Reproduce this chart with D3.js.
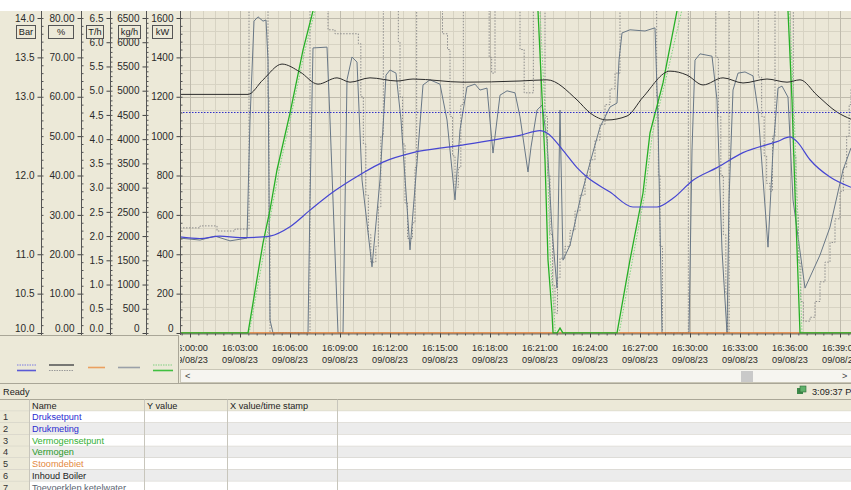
<!DOCTYPE html>
<html lang="nl">
<head>
<meta charset="utf-8">
<title>Trend ketel</title>
<script src="https://cdn.jsdelivr.net/npm/d3@7"></script>
<style>
  body { margin: 0; background: #fff; }
  svg { display: block; font-family: "Liberation Sans", Arial, sans-serif; font-size: 9.2px; }
  .as text { fill: #2a2a2a; }
  .tx text { fill: #2a2a2a; }
</style>
</head>
<body>
<svg id="c" width="851" height="490"></svg>
<script>
// tijd = minuten na 16:00:00 op 09/08/23
var drukSetpunt = [[-0.6, 12.8], [39.66, 12.8]];                      // Bar
var drukMeting = [[-0.6,11.22],[0.6,11.2],[1.8,11.23],[3.0,11.21],[4.38,11.22],[4.8,11.23],[6.0,11.35],[7.2,11.56],
  [8.58,11.79],[10.2,12.01],[11.58,12.17],[13.38,12.29],[15.78,12.37],[18.18,12.45],[19.8,12.51],[21.0,12.57],
  [21.42,12.54],[22.38,12.32],[23.22,12.1],[23.82,11.98],[25.2,11.79],[26.58,11.6],[28.02,11.6],[28.98,11.71],
  [30.18,11.94],[31.62,12.1],[33.18,12.29],[35.22,12.43],[36.0,12.49],[36.42,12.43],[37.2,12.2],[38.4,11.98],[39.66,11.85]];
var vermogenSetpunt = [[-0.6,0],[3.55,0],[4.9,625],[5.35,828],[6.1,1117],[6.9,1437],[7.5,1636],[8.1,1800],[20.4,1800],
  [21.0,1636],[21.45,879],[21.62,371],[21.85,102],[21.92,0],[25.75,0],[26.55,371],[27.3,711],[27.75,1016],[28.5,1270],
  [29.5,1636],[30.0,1800],[35.4,1800],[35.98,1636],[36.22,1184],[36.42,711],[36.72,0],[39.66,0]];   // kW
var vermogen = [[-0.6,0],[3.48,0],[4.38,457],[4.8,625],[5.22,828],[6.0,1117],[6.78,1437],[7.38,1636],[8.0,1800],[20.3,1800],
  [20.88,1636],[21.3,879],[21.48,371],[21.72,102],[21.78,0],[22.02,0],[22.2,25],[22.38,0],[25.62,0],[26.4,371],
  [27.18,711],[27.6,1016],[28.38,1270],[29.22,1636],[29.8,1800],[35.3,1800],[35.88,1636],[36.12,1184],[36.3,711],
  [36.6,0],[39.66,0]];                                                   // kW
var stoomdebiet = [[-0.6, 0], [39.66, 0]];                             // kg/h
var inhoudBoiler = [[-0.6,60.6],[3.48,60.6],[4.38,64.3],[5.52,68.3],[6.6,66.3],[7.68,63.2],[8.82,64.8],[9.6,63.7],
  [10.8,64.8],[12.42,64.0],[13.38,64.5],[16.38,63.7],[19.8,64.0],[21.42,64.3],[23.22,59.2],[24.0,55.9],[25.02,54.1],
  [26.22,55.1],[27.18,59.9],[28.8,66.5],[29.82,65.5],[30.78,63.0],[31.98,64.8],[33.18,63.5],[34.62,64.5],[35.82,63.7],
  [36.6,64.3],[37.62,60.4],[38.82,56.1],[39.66,54.3]];                  // %
var toevoerklep = [[-0.6,24.1],[0.6,23.6],[1.5,24.6],[2.4,23.4],[3.42,24.1],[3.6,54.1],[3.84,79.2],[4.08,80.3],[4.38,79.2],
  [4.56,79.5],[4.68,69.3],[4.8,3.3],[4.98,0],[7.08,0],[7.2,33.8],[7.38,72.4],[8.22,72.6],[8.4,54.1],[8.88,0],[9.18,0],
  [9.42,64.3],[9.72,70.1],[10.02,68.8],[10.32,38.9],[10.92,16.8],[11.4,38.9],[11.76,65.5],[12.0,66.8],[12.36,66.0],
  [12.66,54.1],[13.2,21.1],[13.68,46.5],[13.98,63.0],[14.4,64.3],[15.0,63.2],[15.42,54.1],[15.9,33.8],[16.2,51.6],
  [16.62,62.5],[17.1,63.2],[17.4,61.7],[17.82,62.2],[18.18,45.7],[18.6,60.4],[19.02,61.5],[19.5,61.0],[19.8,54.9],
  [20.28,40.9],[20.46,47.2],[20.82,56.6],[21.12,57.9],[21.42,49.0],[21.72,26.2],[22.02,11.4],[22.2,56.6],[22.38,18.5],
  [22.8,22.3],[23.4,33.8],[24.0,43.2],[24.6,52.3],[25.2,57.4],[25.62,58.4],[25.74,69.3],[25.92,76.2],[26.4,77.0],
  [27.3,76.7],[27.9,77.5],[28.08,54.1],[28.32,0],[29.94,0],[30.12,46.5],[30.3,69.3],[30.6,70.9],[31.32,70.3],
  [31.62,59.2],[31.92,21.1],[32.22,0],[32.34,33.8],[32.58,61.7],[32.88,66.0],[33.3,66.3],[33.78,65.3],[34.08,56.6],
  [34.68,21.8],[34.98,46.5],[35.28,62.2],[35.52,62.7],[35.88,59.9],[36.18,33.8],[36.9,11.4],[37.2,14.2],[37.8,19.8],
  [38.4,26.9],[39.18,41.4],[39.66,47.0]];                              // %
var klepStand = [[-0.6,26.7],[0.6,27.2],[1.62,25.9],[2.7,26.4],[3.54,100],[4.68,60],[4.74,25],[4.8,0],
  [7.2,100],[8.28,77],[8.7,76],[10.1,73.5],[10.25,60],[10.4,48],[10.55,35],[10.7,25],[10.85,18],[11.15,22],[11.3,32],
  [11.45,50],[11.6,100],[12.5,74],[12.6,60],[12.75,48],[12.9,33],[13.05,24],[13.35,28],[13.5,42],[13.6,100],
  [15.15,76],[15.45,72],[15.6,55],[15.75,45],[15.9,37],[16.1,42],[16.25,58],[16.4,100],[17.95,70],[18.1,66],[18.3,100],
  [19.8,72],[20.05,61],[20.6,100],[21.3,55],[21.45,40],[21.6,25],[21.75,12],[21.9,5],[22.05,14],[22.2,19],[22.5,22],
  [22.8,26],[23.1,31],[23.4,35],[23.7,40],[24.0,44],[24.3,49],[24.6,53],[24.9,58],[25.2,62],[25.5,66],[25.8,100],
  [28.0,60],[28.1,40],[28.2,22],[28.35,0],[29.9,100],[31.55,70],[31.7,55],[31.85,40],[32.0,25],[32.15,10],[32.25,0],
  [32.35,100],[34.1,65],[34.3,55],[34.45,45],[34.6,38],[34.8,36],[34.95,50],[35.1,100],[36.2,45],[36.35,30],[36.5,18],
  [36.65,8],[36.8,3],[37.2,4],[37.5,8],[37.8,13],[38.1,18],[38.4,23],[38.7,29],[39.0,36],[39.2,42],[39.4,50],
  [39.55,58],[39.66,62]];                                              // %

var barTicks = [14.0, 13.5, 13.0, 12.0, 11.0, 10.5, 10.0];
var pctTicks = [80, 70, 60, 50, 40, 30, 20, 10, 0];
var thTicks = [6.5, 6.0, 5.5, 5.0, 4.5, 4.0, 3.5, 3.0, 2.5, 2.0, 1.5, 1.0, 0.5, 0.0];
var kghTicks = [6500, 6000, 5500, 5000, 4500, 4000, 3500, 3000, 2500, 2000, 1500, 1000, 500, 0];
var kwTicks = [1600, 1400, 1200, 1000, 800, 600, 400, 200, 0];
var timeTicks = ["16:00:00","16:03:00","16:06:00","16:09:00","16:12:00","16:15:00","16:18:00",
  "16:21:00","16:24:00","16:27:00","16:30:00","16:33:00","16:36:00","16:39:00"];
var tabelNamen = ["Druksetpunt","Drukmeting","Vermogensetpunt","Vermogen","Stoomdebiet","Inhoud Boiler","Toevoerklep ketelwater"];
var kolommen = ["Name", "Y value", "X value/time stamp"];

var svg = d3.select("#c");
var base = new Date(2023, 7, 9, 16, 0, 0);
function tm(m){ return new Date(base.getTime() + m * 60000); }
var parseT = d3.timeParse("%H:%M:%S");
function tickDate(s){ var p = parseT(s); return new Date(2023, 7, 9, p.getHours(), p.getMinutes(), p.getSeconds()); }

var x = d3.scaleTime().domain([tm(-0.6), tm(39.66)]).range([180, 851]);
var yBar = d3.scaleLinear().domain([10, 14]).range([333, 18]);
var yPct = d3.scaleLinear().domain([0, 80]).range([333, 18]);
var yTh = d3.scaleLinear().domain([0, 6.5]).range([333, 18]);
var yKgh = d3.scaleLinear().domain([0, 6500]).range([333, 18]);
var yKw = d3.scaleLinear().domain([0, 1600]).range([333, 18]);

var defs = svg.append("defs");
defs.append("clipPath").attr("id", "clipPlot").append("rect").attr("x", 180).attr("y", 11).attr("width", 671).attr("height", 323.5);
defs.append("clipPath").attr("id", "clipX").append("rect").attr("x", 180).attr("y", 330).attr("width", 671).attr("height", 38);

// achtergronden
svg.append("rect").attr("width", 851).attr("height", 490).attr("fill", "#ece9d8");
svg.append("rect").attr("width", 851).attr("height", 11).attr("fill", "#fff");
svg.append("rect").attr("x", 180).attr("y", 11).attr("width", 671).attr("height", 322).attr("fill", "#ebe7d7");

// raster
var grid = svg.append("g").attr("clip-path", "url(#clipPlot)");
grid.selectAll(".hmin").data(d3.range(0, 1601, 200 / 3)).enter().append("line")
  .attr("x1", 180).attr("x2", 851).attr("y1", d => Math.round(yKw(d)) + 0.5).attr("y2", d => Math.round(yKw(d)) + 0.5)
  .attr("stroke", "#d7d3c3");
grid.selectAll(".vmin").data(d3.range(0, 39.7, 0.75)).enter().append("line")
  .attr("y1", 11).attr("y2", 333).attr("x1", d => Math.round(x(tm(d))) + 0.5).attr("x2", d => Math.round(x(tm(d))) + 0.5)
  .attr("stroke", "#d7d3c3");
grid.selectAll(".hmaj").data(kwTicks).enter().append("line")
  .attr("x1", 180).attr("x2", 851).attr("y1", d => Math.round(yKw(d)) + 0.5).attr("y2", d => Math.round(yKw(d)) + 0.5)
  .attr("stroke", "#bfbbad");
grid.selectAll(".vmaj").data(timeTicks).enter().append("line")
  .attr("y1", 11).attr("y2", 333).attr("x1", d => Math.round(x(tickDate(d))) + 0.5).attr("x2", d => Math.round(x(tickDate(d))) + 0.5)
  .attr("stroke", "#bfbbad");

// lijnen
var series = [
  {data: klepStand, y: yPct, color: "#8c8c8c", dash: "1.5,1.5", curve: d3.curveStepAfter},
  {data: toevoerklep, y: yPct, color: "#687786", curve: d3.curveLinear},
  {data: stoomdebiet, y: yKgh, color: "#e27a2c", w: 1.6},
  {data: vermogenSetpunt, y: yKw, color: "#7fd47f", dash: "1.5,1.5"},
  {data: vermogen, y: yKw, color: "#26b026", w: 1.3},
  {data: inhoudBoiler, y: yPct, color: "#2b2b2b", curve: d3.curveMonotoneX},
  {data: drukSetpunt, y: yBar, color: "#3030c8", dash: "1.5,1.5"},
  {data: drukMeting, y: yBar, color: "#4646d2", curve: d3.curveMonotoneX, w: 1.2}
];
var plot = svg.append("g").attr("clip-path", "url(#clipPlot)");
series.forEach(function(s){
  var line = d3.line().x(d => x(tm(d[0]))).y(d => s.y(d[1])).curve(s.curve || d3.curveLinear);
  plot.append("path").datum(s.data).attr("d", line)
    .attr("fill", "none").attr("stroke", s.color).attr("stroke-width", s.w || 1)
    .attr("stroke-dasharray", s.dash || null);
});

// y-assen links
var asDefs = [
  {scale: yBar, ticks: barTicks, minor: 0.1, fmt: d3.format(".1f"), lx: 41, unit: "Bar", bx: 16, bw: 19},
  {scale: yPct, ticks: pctTicks, minor: 2, fmt: d3.format(".2f"), lx: 81, unit: "%", bx: 48, bw: 25},
  {scale: yTh, ticks: thTicks, minor: 0.1, fmt: d3.format(".1f"), lx: 110, unit: "T/h", bx: 86, bw: 17},
  {scale: yKgh, ticks: kghTicks, minor: 100, fmt: d3.format("d"), lx: 146, unit: "kg/h", bx: 118, bw: 22},
  {scale: yKw, ticks: kwTicks, minor: 40, fmt: d3.format("d"), lx: 180, unit: "kW", bx: 152, bw: 20}
];
asDefs.forEach(function(a){
  var dom = a.scale.domain();
  var g = svg.append("g").attr("class", "as").attr("transform", "translate(" + (a.lx + 0.5) + ",0)");
  // kleine streepjes rechts van de as
  g.append("g").call(d3.axisRight(a.scale).tickValues(d3.range(dom[0], dom[1] + a.minor / 2, a.minor))
      .tickSize(2).tickSizeOuter(0).tickFormat(""))
    .call(gg => gg.select(".domain").remove())
    .selectAll("line").attr("stroke", "#555");
  var big = g.append("g").call(d3.axisLeft(a.scale).tickValues(a.ticks).tickSize(4).tickPadding(3)
      .tickSizeOuter(0).tickFormat(a.fmt));
  big.select(".domain").remove();
  big.selectAll("line").attr("stroke", "#444");
  big.selectAll("text").attr("font-size", null).attr("font-family", null)
    .filter(d => d === dom[0]).attr("y", -5);   // onderste label iets omhoog
  g.append("line").attr("y1", 11).attr("y2", 335).attr("stroke", "#555");
  // eenheid in kadertje
  svg.append("rect").attr("x", a.bx + 0.5).attr("y", 25.5).attr("width", a.bw).attr("height", 13)
    .attr("fill", "#ece9d8").attr("stroke", "#555");
  svg.append("text").attr("x", a.bx + 0.5 + a.bw / 2).attr("y", 35.3).attr("text-anchor", "middle")
    .attr("fill", "#222").text(a.unit);
});

// tijd-as
var fmtT = d3.timeFormat("%H:%M:%S"), fmtD = d3.timeFormat("%d/%m/%y");
var xg = svg.append("g").attr("clip-path", "url(#clipX)");
xg.append("g").attr("transform", "translate(0,333.5)")
  .call(d3.axisBottom(x).ticks(d3.timeSecond.every(30)).tickSize(2).tickSizeOuter(0).tickFormat(""))
  .call(gg => gg.select(".domain").attr("stroke", "#777"))
  .selectAll("line").attr("stroke", "#555");
var xt = xg.append("g").attr("class", "tx").attr("transform", "translate(0,333.5)")
  .call(d3.axisBottom(x).tickValues(timeTicks.map(tickDate)).tickSize(4).tickSizeOuter(0).tickFormat(""));
xt.select(".domain").remove();
xt.selectAll("line").attr("stroke", "#444");
var lab = xg.selectAll(".xl").data(timeTicks).enter().append("text")
  .attr("text-anchor", "middle").attr("fill", "#2a2a2a");
lab.append("tspan").attr("x", d => x(tickDate(d))).attr("y", 351.3).text(d => fmtT(tickDate(d)));
lab.append("tspan").attr("x", d => x(tickDate(d))).attr("y", 363.3).text(d => fmtD(tickDate(d)));

// legenda links onder
svg.append("line").attr("x1", 0).attr("x2", 179).attr("y1", 335.5).attr("y2", 335.5).attr("stroke", "#a9a697");
svg.append("line").attr("x1", 178.5).attr("x2", 178.5).attr("y1", 335).attr("y2", 384).attr("stroke", "#a9a697");
var legenda = [
  {x1: 17, x2: 36, y: 365, c: "#7a7ae0", dash: "1.5,1"}, {x1: 17, x2: 36, y: 370.5, c: "#5a5ad6", w: 1.6},
  {x1: 49, x2: 74, y: 365, c: "#5a5a5a", w: 1.6}, {x1: 49, x2: 74, y: 370.5, c: "#9a9a9a", dash: "1.5,1"},
  {x1: 88, x2: 105, y: 367.5, c: "#eba060", w: 1.6},
  {x1: 118, x2: 140, y: 367.5, c: "#9aa0a8", w: 1.6},
  {x1: 153, x2: 173, y: 365, c: "#80d080", dash: "1.5,1"}, {x1: 153, x2: 173, y: 370.5, c: "#40c040", w: 1.6}
];
svg.selectAll(".lg").data(legenda).enter().append("line")
  .attr("x1", d => d.x1).attr("x2", d => d.x2).attr("y1", d => d.y).attr("y2", d => d.y)
  .attr("stroke", d => d.c).attr("stroke-width", d => d.w || 1).attr("stroke-dasharray", d => d.dash || null);

// schuifbalk
svg.append("rect").attr("x", 180.5).attr("y", 369.5).attr("width", 671).attr("height", 13)
  .attr("fill", "#f6f5f0").attr("stroke", "#c9c6b6");
svg.append("rect").attr("x", 741).attr("y", 371).attr("width", 12).attr("height", 11).attr("fill", "#c9c9c9");
svg.append("text").attr("x", 185).attr("y", 379).attr("fill", "#444").text("<");
svg.append("text").attr("x", 842).attr("y", 379).attr("fill", "#444").text(">");

// statusbalk
svg.append("line").attr("x1", 0).attr("x2", 851).attr("y1", 383.5).attr("y2", 383.5).attr("stroke", "#a9a697");
svg.append("text").attr("x", 3).attr("y", 394.5).attr("fill", "#222").text("Ready");
svg.append("rect").attr("x", 797).attr("y", 388).attr("width", 6).attr("height", 6).attr("fill", "#3d8a4a");
svg.append("rect").attr("x", 800).attr("y", 386).attr("width", 6).attr("height", 6).attr("fill", "#5fb06a").attr("stroke", "#2e6b38").attr("stroke-width", 0.6);
svg.append("text").attr("x", 812).attr("y", 394.5).attr("fill", "#222").text("3:09:37 PM");

// tabel
var colX = [0, 29, 144, 227, 337, 851];
var rijH = 11.7, tabTop = 399.5;
var rijen = [kolommen].concat(tabelNamen);
var naamKleur = ["#2b2bd0", "#2b2bd0", "#33b033", "#2a9a2a", "#e4893e", "#222222", "#5a6470"];
var tab = svg.append("g");
rijen.forEach(function(r, i){
  var y0 = tabTop + i * rijH;
  var vul = i === 0 ? "#ece9d8" : (i % 2 === 1 ? "#ffffff" : "#ececec");
  tab.append("rect").attr("x", 29).attr("y", y0).attr("width", 822).attr("height", rijH).attr("fill", vul);
  tab.append("rect").attr("x", 0).attr("y", y0).attr("width", 29).attr("height", rijH).attr("fill", "#ece9d8");
  tab.append("line").attr("x1", 0).attr("x2", 851).attr("y1", y0 + rijH).attr("y2", y0 + rijH).attr("stroke", "#cfcdc4");
});
tab.append("line").attr("x1", 0).attr("x2", 851).attr("y1", tabTop).attr("y2", tabTop).attr("stroke", "#aaa797");
colX.slice(1, 5).forEach(function(cx){
  tab.append("line").attr("x1", cx + 0.5).attr("x2", cx + 0.5).attr("y1", tabTop).attr("y2", 490).attr("stroke", "#c8c6bc");
});
kolommen.forEach(function(k, j){
  tab.append("text").attr("x", colX[j + 1] + 3).attr("y", tabTop + rijH / 2 + 3.3).attr("fill", "#222").text(k);
});
tabelNamen.forEach(function(n, i){
  var yc = tabTop + (i + 1) * rijH + rijH / 2 + 3.3;
  tab.append("text").attr("x", 3).attr("y", yc).attr("fill", "#333").text(i + 1);
  tab.append("text").attr("x", 32).attr("y", yc).attr("fill", naamKleur[i]).text(n);
});
</script>
</body>
</html>
